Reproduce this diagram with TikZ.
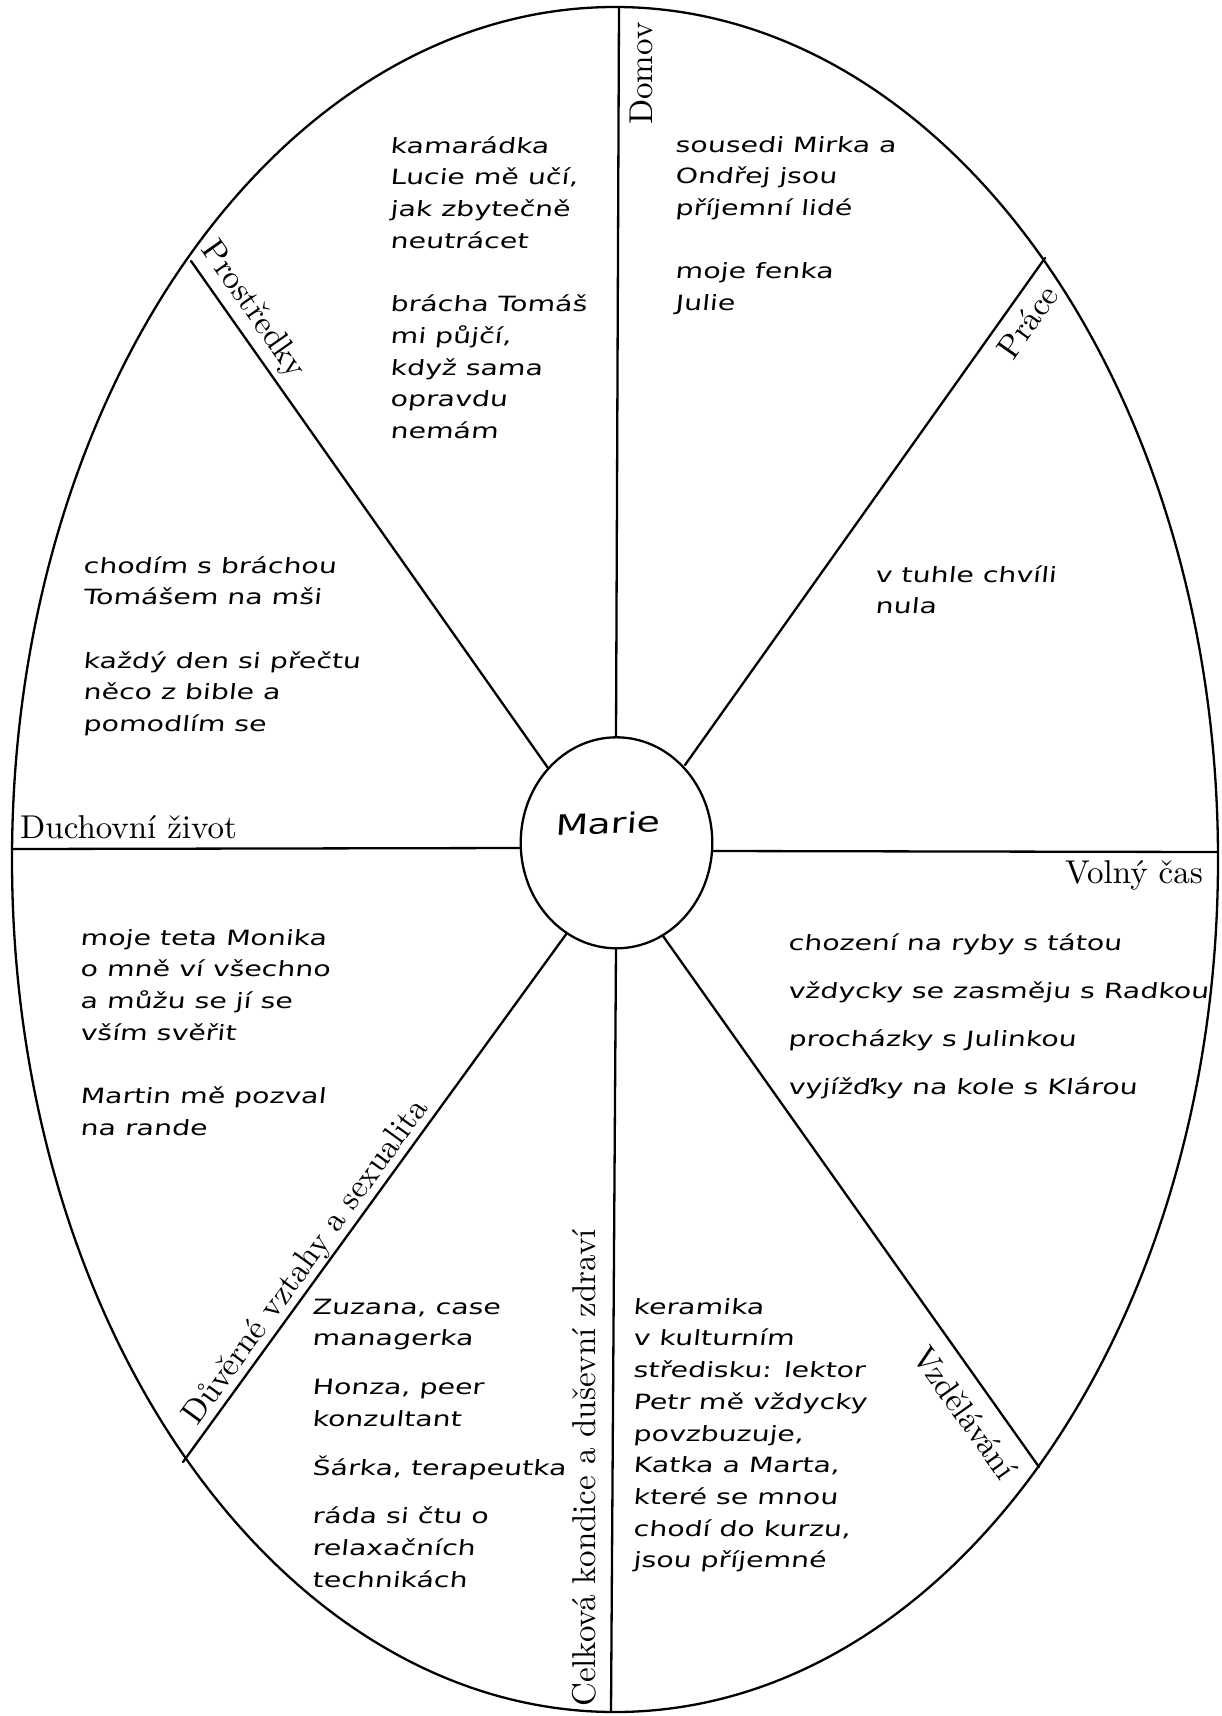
\documentclass[tikz,border=0pt]{standalone}
\usepackage{fontspec}
\usetikzlibrary{shapes.geometric}
\newfontfamily\hand{DejaVu Sans}[FakeStretch=1.35,FakeSlant=0.1]
\newfontfamily\labfont{lmroman10-regular}[Extension=.otf]
\begin{document}
\begin{tikzpicture}[x=1pt,y=-1pt,
  ln/.style={line width=2.3pt, line cap=round},
  hw/.style={font=\hand\fontsize{21}{31.7}\selectfont, align=left, anchor=north west, inner sep=0pt},
  lab/.style={font=\labfont\fontsize{33}{40}\selectfont, inner sep=0pt}]
\fill[white] (0,0) rectangle (1221,1716);
\useasboundingbox (0,0) rectangle (1221,1716);
% outer ellipse
\draw[ln] (615,859.5) ellipse [x radius=603, y radius=852.5];
% centre
\node[ln, draw, ellipse, minimum width=191.6pt, minimum height=211pt, inner sep=0pt] (c) at (616.5,842.8) {};
\node[font=\hand\fontsize{28}{34}\selectfont, rotate=2, anchor=base, inner sep=0pt] (m) at (607.5,834) {Marie};
% spoke end points
\coordinate (i1) at (616,737);  \coordinate (o1) at (619,7.5);
\coordinate (i2) at (685,765);  \coordinate (o2) at (1045,258);
\coordinate (i3) at (712,851);  \coordinate (o3) at (1218,852);
\coordinate (i4) at (663,936);  \coordinate (o4) at (1039,1467);
\coordinate (i5) at (616,948);  \coordinate (o5) at (611,1712);
\coordinate (i6) at (567,933);  \coordinate (o6) at (183,1462);
\coordinate (i7) at (521,848);  \coordinate (o7) at (12,849);
\coordinate (i8) at (548,768);  \coordinate (o8) at (191,261);
\foreach \k in {1,...,8} { \draw[ln] (i\k) -- (o\k); }
% sector labels
\node[lab, rotate=90, anchor=base west] (domov) at (652,125) {Domov};
\node[lab, rotate=54.6, anchor=base] (prace) at (1036.8,328.2) {Práce};
\node[lab, anchor=base east] (volny) at (1203,883) {Volný čas};
\node[lab, rotate=-54.7, anchor=base] (vzd) at (956,1419) {Vzdělávání};
\node[lab, rotate=90, anchor=base west] (celk) at (595,1707) {Celková kondice a duševní zdraví};
\node[lab, rotate=54, anchor=base] (duv) at (313.2,1267.5) {Důvěrné vztahy a sexualita};
\node[lab, anchor=base west] (duch) at (20,838) {Duchovní život};
\node[lab, rotate=-54.85, anchor=base] (prost) at (246,314.7) {Prostředky};
% handwritten notes
\node[hw] (t1) at (390,130.8) {\strut kamarádka\\ Lucie mě učí,\\ jak zbytečně\\ neutrácet\\[31.7pt] brácha Tomáš\\ mi půjčí,\\ když sama\\ opravdu\\ nemám};
\node[hw] (t2) at (675,129.8) {\strut sousedi Mirka a\\ Ondřej jsou\\ příjemní lidé\\[31.7pt] moje fenka\\ Julie};
\node[hw] (t3) at (875,559.8) {\strut v tuhle chvíli\\ nula};
\node[hw] (t4) at (83,550.8) {\strut chodím s bráchou\\ Tomášem na mši\\[31.7pt] každý den si přečtu\\ něco z bible a\\ pomodlím se};
\node[hw] (t5) at (80,922.8) {\strut moje teta Monika\\ o mně ví všechno\\ a můžu se jí se\\ vším svěřit\\[31.7pt] Martin mě pozval\\ na rande};
\node[hw] (t6) at (788,927.8) {\strut chození na ryby s tátou\\[16.3pt] vždycky se zasměju s Radkou\\[16.3pt] procházky s Julinkou\\[16.3pt] vyjížďky na kole s Klárou};
\node[hw] (t7) at (312,1291.8) {\strut Zuzana, case\\ managerka\\[17pt] Honza, peer\\ konzultant\\[17pt] Šárka, terapeutka\\[17pt] ráda si čtu o\\ relaxačních\\ technikách};
\node[hw] (t8) at (633,1291.8) {\strut keramika\\ v kulturním\\ středisku: lektor\\ Petr mě vždycky\\ povzbuzuje,\\ Katka a Marta,\\ které se mnou\\ chodí do kurzu,\\ jsou příjemné};
\end{tikzpicture}
\end{document}
